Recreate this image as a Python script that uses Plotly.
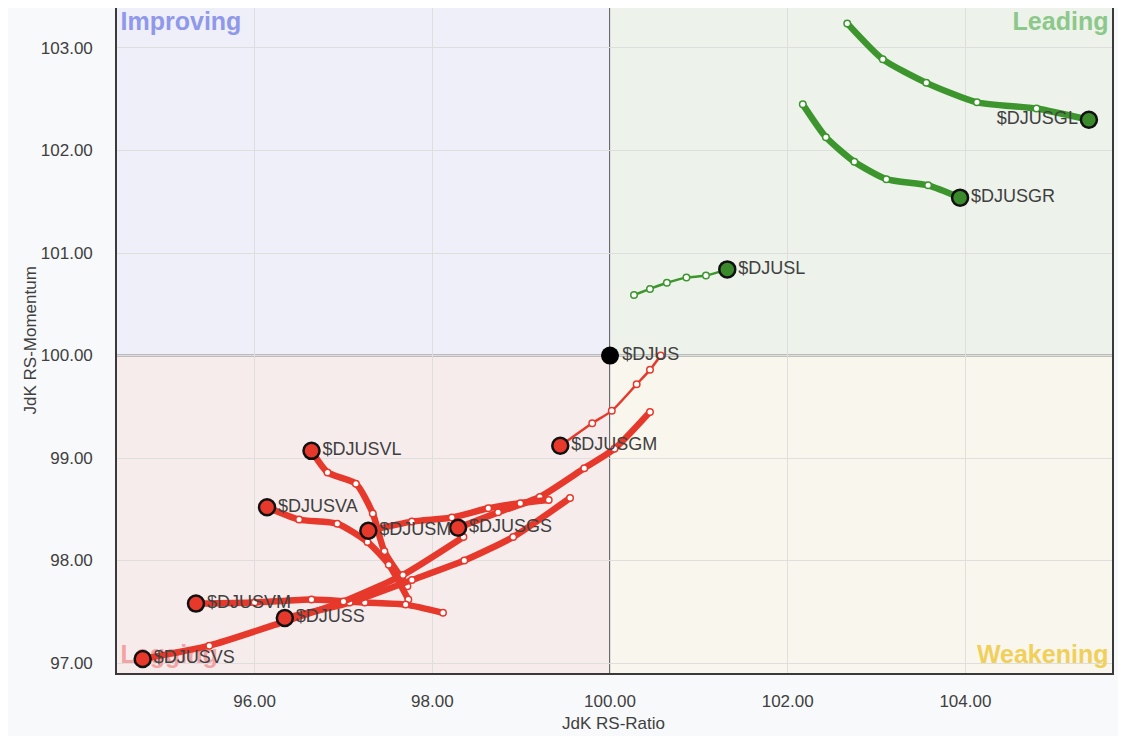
import plotly.graph_objects as go

# ---------------- data ----------------
series_names = ["$DJUSGL", "$DJUSGR", "$DJUSL", "$DJUSGM", "$DJUSGS", "$DJUSM",
                "$DJUSVL", "$DJUSVA", "$DJUSVM", "$DJUSS", "$DJUSVS"]

# RS-Ratio (x) / RS-Momentum (y) trail values, oldest -> newest (last = head)
gl_x = [102.67, 103.07, 103.56, 104.13, 104.80, 105.39]
gl_y = [103.24, 102.89, 102.66, 102.47, 102.41, 102.30]
gr_x = [102.17, 102.43, 102.75, 103.11, 103.58, 103.94]
gr_y = [102.45, 102.13, 101.89, 101.72, 101.66, 101.54]
l_x = [100.27, 100.45, 100.64, 100.86, 101.08, 101.32]
l_y = [100.59, 100.65, 100.71, 100.76, 100.78, 100.84]
gm_x = [100.57, 100.45, 100.30, 100.02, 99.80, 99.44]
gm_y = [100.00, 99.86, 99.72, 99.46, 99.34, 99.12]
gs_x = [100.45, 100.05, 99.71, 99.21, 98.74, 98.29]
gs_y = [99.45, 99.09, 98.90, 98.62, 98.47, 98.32]
m_x = [99.31, 98.99, 98.63, 98.22, 97.77, 97.28]
m_y = [98.59, 98.56, 98.51, 98.42, 98.38, 98.29]
vl_x = [97.72, 97.46, 97.33, 97.14, 96.82, 96.64]
vl_y = [97.75, 98.09, 98.46, 98.75, 98.86, 99.07]
va_x = [97.73, 97.51, 97.27, 96.93, 96.50, 96.14]
va_y = [97.62, 97.96, 98.18, 98.36, 98.40, 98.52]
vm_x = [98.12, 97.70, 97.24, 96.64, 96.00, 95.34]
vm_y = [97.49, 97.57, 97.59, 97.62, 97.59, 97.58]
ss_x = [99.55, 98.91, 98.36, 97.77, 97.07, 96.34]
ss_y = [98.61, 98.23, 98.00, 97.81, 97.59, 97.44]
vs_x = [98.35, 97.67, 97.00, 96.32, 95.49, 94.74]
vs_y = [98.23, 97.86, 97.60, 97.40, 97.17, 97.04]

bench_name = "$DJUS"
bench_x = [100.0]
bench_y = [100.0]

x_ticks = [96, 98, 100, 102, 104]
y_ticks = [97, 98, 99, 100, 101, 102, 103]
quadrant_labels = ["Improving", "Leading", "Lagging", "Weakening"]

# ---------------- style ----------------
RED = "#e6392b"
GREEN = "#3c962d"
GREEN_HEAD = "#3a8a2b"
XR = [94.451, 105.650]
YR = [96.903, 103.390]
FONT = "Liberation Sans, Arial, sans-serif"
TXT = "#404040"

trails = [
    (gl_x, gl_y, GREEN, GREEN_HEAD, 6.5, "middle left"),
    (gr_x, gr_y, GREEN, GREEN_HEAD, 6.5, "middle right"),
    (l_x, l_y, GREEN, GREEN_HEAD, 2.5, "middle right"),
    (gm_x, gm_y, RED, RED, 2.5, "middle right"),
    (gs_x, gs_y, RED, RED, 6.5, "middle right"),
    (m_x, m_y, RED, RED, 6.5, "middle right"),
    (vl_x, vl_y, RED, RED, 6.5, "middle right"),
    (va_x, va_y, RED, RED, 6.5, "middle right"),
    (vm_x, vm_y, RED, RED, 6.5, "middle right"),
    (ss_x, ss_y, RED, RED, 6.5, "middle right"),
    (vs_x, vs_y, RED, RED, 6.5, "middle right"),
]

fig = go.Figure()

# quadrant labels (drawn first so the data sits on top)
fig.add_trace(go.Scatter(
    x=[XR[0] + 0.04, XR[1] - 0.04, XR[0] + 0.04, XR[1] - 0.04],
    y=[YR[1] - 0.15, YR[1] - 0.15, YR[0] + 0.16, YR[0] + 0.16],
    mode="text", text=quadrant_labels,
    textposition=["middle right", "middle left", "middle right", "middle left"],
    textfont=dict(family=FONT, size=25,
                  color=["#8f98ea", "#8cc88a", "#f2a3a3", "#f0d05a"],
                  weight="bold"),
    hoverinfo="skip", showlegend=False))

for (xs, ys, col, headcol, w, tpos), name in zip(trails, series_names):
    fig.add_trace(go.Scatter(
        x=xs, y=ys, mode="lines",
        line=dict(color=col, width=w, shape="spline", smoothing=0.6),
        hoverinfo="skip", showlegend=False))
    fig.add_trace(go.Scatter(
        x=xs[:-1], y=ys[:-1], mode="markers",
        marker=dict(size=6.5, color="white", line=dict(color=col, width=1.5)),
        hoverinfo="skip", showlegend=False))

for (xs, ys, col, headcol, w, tpos), name in zip(trails, series_names):
    fig.add_trace(go.Scatter(
        x=[xs[-1]], y=[ys[-1]], mode="markers+text", text=[name],
        textposition=tpos,
        textfont=dict(family=FONT, size=18, color=TXT),
        marker=dict(size=16, color=headcol, line=dict(color="#111111", width=2.5)),
        hoverinfo="skip", showlegend=False))

fig.add_trace(go.Scatter(
    x=bench_x, y=bench_y, mode="markers+text", text=[bench_name],
    textposition="middle right",
    textfont=dict(family=FONT, size=18, color=TXT),
    marker=dict(size=18, color="#000000"),
    hoverinfo="skip", showlegend=False))

shapes = [
    dict(type="rect", xref="x", yref="y", x0=XR[0], x1=100, y0=100, y1=YR[1],
         fillcolor="#eeeff9", line_width=0, layer="below"),
    dict(type="rect", xref="x", yref="y", x0=100, x1=XR[1], y0=100, y1=YR[1],
         fillcolor="#edf2eb", line_width=0, layer="below"),
    dict(type="rect", xref="x", yref="y", x0=XR[0], x1=100, y0=YR[0], y1=100,
         fillcolor="#f6ecec", line_width=0, layer="below"),
    dict(type="rect", xref="x", yref="y", x0=100, x1=XR[1], y0=YR[0], y1=100,
         fillcolor="#f9f6ed", line_width=0, layer="below"),
    dict(type="line", xref="x", yref="y", x0=100, x1=100, y0=YR[0], y1=YR[1],
         line=dict(color="#222222", width=1.3), layer="below"),
    dict(type="line", xref="x", yref="y", x0=XR[0], x1=XR[1], y0=100, y1=100,
         line=dict(color="#222222", width=1.3), layer="below"),
]

# page body adds an 8px offset, so the figure is sized to fit inside it
W, H = 1110, 728
L, R, T, B = 109, 6, 0, 63
PW = W - L - R
PH = H - T - B

fig.update_layout(
    width=W, height=H,
    margin=dict(l=L, r=R, t=T, b=B, autoexpand=False),
    paper_bgcolor="#f8f9fb",
    plot_bgcolor="#f8f9fb",
    shapes=shapes,
    showlegend=False,
    hovermode=False,
    font=dict(family=FONT, size=18, color=TXT),
    annotations=[
        dict(text="JdK RS-Ratio", xref="paper", yref="paper",
             x=0.4985, y=-(715 - PH) / PH, xanchor="center", yanchor="middle",
             showarrow=False, font=dict(family=FONT, size=17, color=TXT)),
        dict(text="JdK RS-Momentum", xref="paper", yref="paper",
             x=(22 - L) / PW, y=0.50, xanchor="center", yanchor="middle",
             textangle=-90,
             showarrow=False, font=dict(family=FONT, size=17, color=TXT)),
    ],
)

fig.update_xaxes(range=XR, tickvals=x_ticks, tickformat=".2f",
                 showgrid=True, gridcolor="#dedede", gridwidth=1,
                 zeroline=False, showline=True, mirror=True,
                 linecolor="#3a3a3a", linewidth=1.6, ticks="",
                 ticklabelstandoff=12,
                 tickfont=dict(family=FONT, size=17, color=TXT))
fig.update_yaxes(range=YR, tickvals=y_ticks, tickformat=".2f",
                 showgrid=True, gridcolor="#dedede", gridwidth=1,
                 zeroline=False, showline=True, mirror=True,
                 linecolor="#3a3a3a", linewidth=1.6, ticks="",
                 ticklabelstandoff=19,
                 tickfont=dict(family=FONT, size=17, color=TXT))

fig.write_html("out.html")
